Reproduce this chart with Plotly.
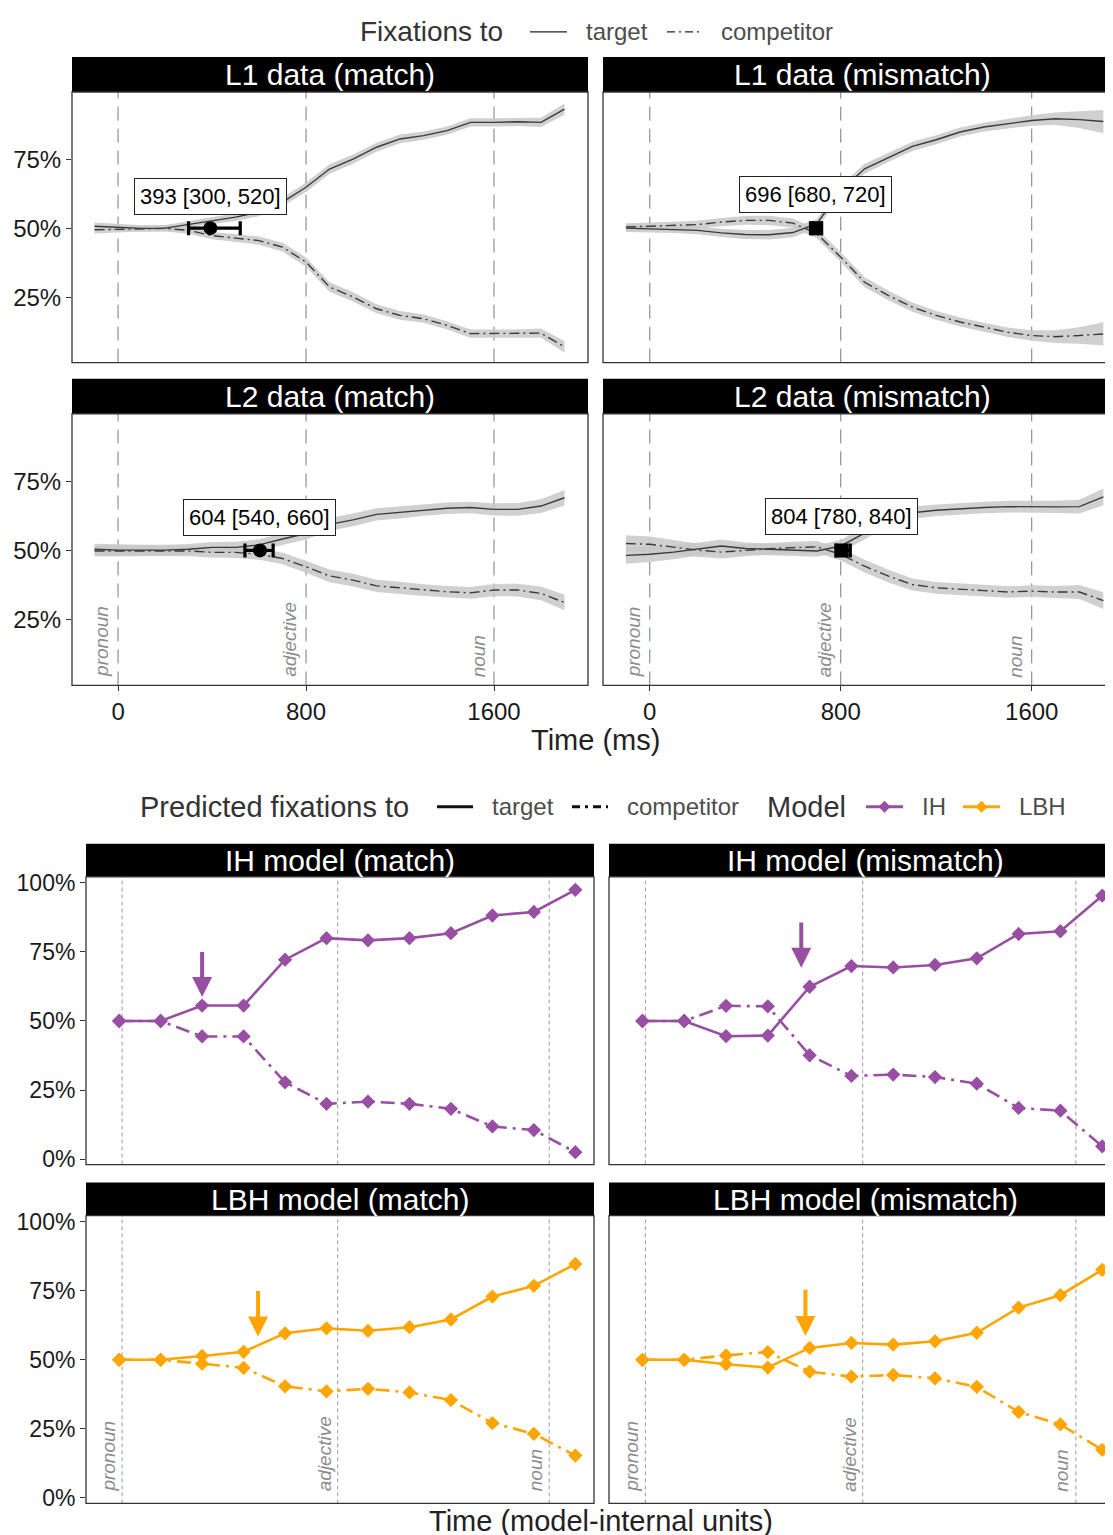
import plotly.graph_objects as go

W, H = 1113, 1535
FONT = "Liberation Sans"
OFF_X = 8          # page body margin compensation (horizontal)
Y_OFF, Y_SCALE = 15.2, 0.9885   # measured page placement (vertical)

# ---------------- data: eye-tracking (top) ----------------
time_ms = [-100, 0, 100, 200, 300, 400, 500, 600, 700, 800, 900, 1000,
           1100, 1200, 1300, 1400, 1500, 1600, 1700, 1800, 1900]

l1_match_target = [50.7, 50.2, 49.9, 50.0, 51.3, 52.8, 54.0, 55.8, 59.4, 64.8, 71.4,
                   75.0, 79.3, 82.3, 83.5, 85.3, 88.3, 88.3, 88.5, 88.3, 93.1]
l1_match_comp = [49.4, 49.6, 49.9, 49.9, 49.2, 47.3, 46.4, 45.5, 43.1, 37.7, 28.7,
                 25.1, 20.8, 18.4, 17.2, 14.8, 11.8, 11.8, 11.8, 12.0, 7.0]
l1_match_ci = [1.3, 1.2, 1.1, 1.1, 1.2, 1.3, 1.4, 1.5, 1.6, 1.7, 1.7,
               1.7, 1.6, 1.6, 1.5, 1.5, 1.5, 1.5, 1.5, 1.7, 2.0]

l1_mis_target = [50.0, 49.8, 49.5, 49.2, 48.3, 47.7, 47.6, 48.4, 51.6, 63.6, 71.5,
                 75.7, 79.6, 82.0, 84.8, 86.6, 87.8, 89.0, 89.6, 89.3, 88.6]
l1_mis_comp = [50.4, 50.7, 51.0, 51.3, 52.2, 52.8, 52.8, 51.8, 48.0, 39.5, 30.4,
               25.6, 21.4, 18.4, 16.0, 14.1, 12.3, 11.1, 10.7, 11.1, 11.7]
l1_mis_ci = [1.4, 1.3, 1.3, 1.4, 1.5, 1.6, 1.7, 1.7, 1.7, 1.8, 1.8,
             1.7, 1.7, 1.6, 1.6, 1.6, 1.7, 1.9, 2.3, 3.0, 4.2]

l2_match_target = [50.4, 50.1, 50.1, 50.1, 50.4, 51.1, 51.1, 52.0, 54.1, 56.1, 59.4,
                   61.0, 63.0, 63.7, 64.6, 65.2, 65.5, 64.8, 64.8, 66.0, 69.0]
l2_match_comp = [49.8, 49.8, 49.9, 49.9, 49.8, 49.3, 49.3, 48.6, 47.1, 44.1, 40.8,
                 39.3, 37.2, 36.5, 35.7, 35.1, 34.7, 35.7, 35.7, 34.5, 31.2]
l2_match_ci = [2.0, 2.0, 1.9, 1.9, 1.9, 1.9, 2.0, 2.0, 2.1, 2.2, 2.3,
               2.3, 2.2, 2.2, 2.1, 2.1, 2.1, 2.2, 2.3, 2.5, 2.8]

l2_mis_target = [48.2, 48.6, 49.4, 50.4, 51.6, 50.7, 50.4, 50.1, 49.8, 51.6, 56.2,
                 61.8, 63.6, 64.5, 65.1, 65.5, 65.8, 65.7, 65.7, 65.8, 69.3]
l2_mis_comp = [52.5, 52.2, 51.2, 50.1, 49.4, 50.1, 50.6, 51.0, 51.3, 48.6, 44.3,
               40.7, 37.7, 36.5, 35.9, 35.5, 35.0, 35.3, 35.0, 35.0, 31.9]
l2_mis_ci = [3.0, 2.8, 2.6, 2.4, 2.3, 2.2, 2.1, 2.1, 2.1, 2.2, 2.3,
             2.3, 2.2, 2.1, 2.1, 2.1, 2.1, 2.1, 2.2, 2.5, 3.0]

data_titles = ["L1 data (match)", "L1 data (mismatch)", "L2 data (match)", "L2 data (mismatch)"]
div_est = [393, 696, 604, 804]
div_lo = [300, 680, 540, 780]
div_hi = [520, 720, 660, 840]
div_symbol = ["circle", "square", "circle", "square"]
div_label_y = [61.5, 62.2, 62.0, 62.4]

event_names = ["pronoun", "adjective", "noun"]
event_ms = [0, 800, 1600]
x_ticks_ms = [0, 800, 1600]

# ---------------- data: model predictions (bottom) ----------------
model_step = [0, 1, 2, 3, 4, 5, 6, 7, 8, 9, 10, 11]
ih_match_target = [50, 50, 55.6, 55.6, 72.2, 80.0, 79.2, 80.0, 81.8, 88.2, 89.5, 97.5]
ih_match_comp = [50, 50, 44.4, 44.4, 27.8, 20.0, 20.8, 20.0, 18.2, 11.8, 10.5, 2.5]
ih_mis_target = [50, 50, 44.5, 44.7, 62.4, 69.9, 69.4, 70.3, 72.7, 81.5, 82.5, 95.4]
ih_mis_comp = [50, 50, 55.5, 55.3, 37.6, 30.1, 30.6, 29.7, 27.3, 18.5, 17.5, 4.6]
lbh_match_target = [50, 50, 51.4, 52.9, 59.6, 61.4, 60.5, 61.8, 64.6, 72.9, 76.8, 84.7]
lbh_match_comp = [50, 50, 48.6, 47.1, 40.4, 38.6, 39.5, 38.2, 35.4, 27.1, 23.2, 15.3]
lbh_mis_target = [50, 50, 48.4, 47.2, 54.3, 56.1, 55.5, 56.7, 59.8, 68.9, 73.4, 82.6]
lbh_mis_comp = [50, 50, 51.6, 52.8, 45.7, 43.9, 44.5, 43.3, 40.2, 31.1, 26.6, 17.4]

model_titles = ["IH model (match)", "IH model (mismatch)", "LBH model (match)", "LBH model (mismatch)"]
model_names = ["IH", "LBH"]
model_colors = {"IH": "#984EA3", "LBH": "#FFA500"}
arrow_step = [2.0, 3.8, 3.35, 3.9]
arrow_tail = [75.5, 86.2, 75.5, 75.9]
arrow_tip = [58.7, 69.3, 58.4, 58.6]
event_step = [0.07, 5.27, 10.37]

# ---------------- layout geometry (pixels of the target picture) ----------------
def PX(x):
    return (x - OFF_X) / W

def PY(y):
    return 1 - ((y - Y_OFF) / Y_SCALE) / H

panels = [
    # x0, x1, strip_top, plot_top, plot_bottom
    (72, 588, 57, 92, 362),
    (603, 1121, 57, 92, 362),
    (72, 588, 378, 413, 684),
    (603, 1121, 378, 413, 684),
    (86, 594, 842, 875, 1162),
    (609, 1121, 842, 875, 1162),
    (86, 594, 1180, 1213, 1500),
    (609, 1121, 1180, 1213, 1500),
]

fig = go.Figure()
shapes = []
annotations = []
layout = {}

def ax_names(i):
    s = "" if i == 1 else str(i)
    return "x" + s, "y" + s, "xaxis" + s, "yaxis" + s

# ---------------- top: data panels ----------------
top_series = [
    (l1_match_target, l1_match_comp, l1_match_ci),
    (l1_mis_target, l1_mis_comp, l1_mis_ci),
    (l2_match_target, l2_match_comp, l2_match_ci),
    (l2_mis_target, l2_mis_comp, l2_mis_ci),
]
LINE_C = "#3a3a3a"
for k in range(4):
    i = k + 1
    xr, yr, xa, ya = ax_names(i)
    x0, x1, st, pt, pb = panels[k]
    left = k % 2 == 0
    bottom_row = k >= 2
    layout[xa] = dict(domain=[PX(x0), min(1.0, PX(x1))], anchor=yr,
                      range=[-196, 2000] if left else [-196, 1974],
                      showgrid=False, zeroline=False, showline=False,
                      tickvals=x_ticks_ms, ticktext=[str(v) for v in x_ticks_ms],
                      showticklabels=bottom_row, ticks="outside" if bottom_row else "",
                      ticklen=5, tickcolor="#333", tickwidth=1.2,
                      tickfont=dict(family=FONT, size=24, color="#1a1a1a"))
    layout[ya] = dict(domain=[PY(pb), PY(pt)], anchor=xr, range=[0.013, 0.993],
                      showgrid=False, zeroline=False, showline=False,
                      tickvals=[0.25, 0.5, 0.75], ticktext=["25%", "50%", "75%"],
                      showticklabels=left, ticks="outside" if left else "",
                      ticklen=5, tickcolor="#333", tickwidth=1.2,
                      tickfont=dict(family=FONT, size=24, color="#1a1a1a"))
    tgt, cmp_, ci = top_series[k]
    for ser in (tgt, cmp_):
        up = [(v + c) / 100 for v, c in zip(ser, ci)]
        lo = [(v - c) / 100 for v, c in zip(ser, ci)]
        fig.add_trace(go.Scatter(x=time_ms + time_ms[::-1], y=up + lo[::-1],
                                 fill="toself", fillcolor="rgba(200,200,200,0.85)",
                                 line=dict(width=0), mode="lines", hoverinfo="skip",
                                 showlegend=False, xaxis=xr, yaxis=yr))
    for e in event_ms:
        shapes.append(dict(type="line", xref=xr, yref=yr + " domain", x0=e, x1=e, y0=0, y1=1,
                           line=dict(color="#7a7a7a", width=1, dash="14px,8px"), layer="below"))
    fig.add_trace(go.Scatter(x=time_ms, y=[v / 100 for v in tgt], mode="lines",
                             line=dict(color=LINE_C, width=1.4), showlegend=False,
                             xaxis=xr, yaxis=yr))
    fig.add_trace(go.Scatter(x=time_ms, y=[v / 100 for v in cmp_], mode="lines",
                             line=dict(color=LINE_C, width=1.4, dash="10px,4px,2px,4px"),
                             showlegend=False, xaxis=xr, yaxis=yr))
    fig.add_trace(go.Scatter(x=[div_est[k]], y=[0.5], mode="markers",
                             marker=dict(symbol=div_symbol[k], size=14, color="black"),
                             error_x=dict(type="data", symmetric=False,
                                          array=[div_hi[k] - div_est[k]],
                                          arrayminus=[div_est[k] - div_lo[k]],
                                          thickness=3.2, width=7, color="black"),
                             showlegend=False, xaxis=xr, yaxis=yr))
    annotations.append(dict(x=div_est[k], y=div_label_y[k] / 100, xref=xr, yref=yr,
                            text=f"{div_est[k]} [{div_lo[k]}, {div_hi[k]}]", showarrow=False,
                            xanchor="center", yanchor="middle",
                            font=dict(family=FONT, size=22, color="black"),
                            bgcolor="white", bordercolor="#222", borderwidth=1, borderpad=5))
    if bottom_row:
        for name, e in zip(event_names, event_ms):
            annotations.append(dict(x=e - 68, y=0.035, xref=xr, yref=yr, text=name,
                                    textangle=-90, showarrow=False, xanchor="center", yanchor="bottom",
                                    font=dict(family=FONT, size=19, color="#8c8c8c", style="italic")))

# ---------------- bottom: model panels ----------------
model_series = [
    ("IH", ih_match_target, ih_match_comp),
    ("IH", ih_mis_target, ih_mis_comp),
    ("LBH", lbh_match_target, lbh_match_comp),
    ("LBH", lbh_mis_target, lbh_mis_comp),
]
for k in range(4):
    i = k + 5
    xr, yr, xa, ya = ax_names(i)
    x0, x1, st, pt, pb = panels[k + 4]
    left = k % 2 == 0
    layout[xa] = dict(domain=[PX(x0), min(1.0, PX(x1))], anchor=yr, range=[-0.8, 11.45],
                      showgrid=False, zeroline=False, showline=False,
                      showticklabels=False, ticks="")
    layout[ya] = dict(domain=[PY(pb), PY(pt)], anchor=xr, range=[-0.02, 1.022],
                      showgrid=False, zeroline=False, showline=False,
                      tickvals=[0, 0.25, 0.5, 0.75, 1.0],
                      ticktext=["0%", "25%", "50%", "75%", "100%"],
                      showticklabels=left, ticks="outside" if left else "",
                      ticklen=5, tickcolor="#333", tickwidth=1.2,
                      tickfont=dict(family=FONT, size=23, color="#1a1a1a"))
    for e in event_step:
        shapes.append(dict(type="line", xref=xr, yref=yr + " domain", x0=e, x1=e, y0=0, y1=1,
                           line=dict(color="#9a9a9a", width=1, dash="4px,3px"), layer="below"))
    m, tgt, cmp_ = model_series[k]
    col = model_colors[m]
    fig.add_trace(go.Scatter(x=model_step, y=[v / 100 for v in cmp_], mode="lines+markers",
                             line=dict(color=col, width=2.6, dash="14px,6px,3px,6px"),
                             marker=dict(symbol="diamond", size=11, color=col),
                             showlegend=False, xaxis=xr, yaxis=yr))
    fig.add_trace(go.Scatter(x=model_step, y=[v / 100 for v in tgt], mode="lines+markers",
                             line=dict(color=col, width=2.6),
                             marker=dict(symbol="diamond", size=11, color=col),
                             showlegend=False, xaxis=xr, yaxis=yr))
    annotations.append(dict(x=arrow_step[k], y=arrow_tip[k] / 100, ax=arrow_step[k],
                            ay=arrow_tail[k] / 100, xref=xr, yref=yr, axref=xr, ayref=yr,
                            text="", showarrow=True, arrowhead=2, arrowsize=1.0,
                            arrowwidth=4, arrowcolor=col))
    if k >= 2:
        for name, e in zip(event_names, event_step):
            annotations.append(dict(x=e - 0.33, y=0.015, xref=xr, yref=yr, text=name,
                                    textangle=-90, showarrow=False, xanchor="center", yanchor="bottom",
                                    font=dict(family=FONT, size=19, color="#8c8c8c", style="italic")))

# ---------------- strips and panel borders ----------------
all_titles = data_titles + model_titles
for (x0, x1, st, pt, pb), title in zip(panels, all_titles):
    shapes.append(dict(type="rect", xref="paper", yref="paper", x0=PX(x0), x1=PX(x1),
                       y0=PY(pt), y1=PY(st), fillcolor="black", line=dict(width=0)))
    shapes.append(dict(type="rect", xref="paper", yref="paper", x0=PX(x0), x1=PX(x1),
                       y0=PY(pb), y1=PY(pt), fillcolor="rgba(0,0,0,0)",
                       line=dict(color="#333", width=1.3)))
    annotations.append(dict(x=PX((x0 + x1) / 2), y=PY((st + pt) / 2), xref="paper", yref="paper",
                            text=title, showarrow=False, xanchor="center", yanchor="middle",
                            font=dict(family=FONT, size=30, color="white")))

# ---------------- axis titles ----------------
annotations.append(dict(x=PX(595), y=PY(738), xref="paper", yref="paper", text="Time (ms)",
                        showarrow=False, xanchor="center", yanchor="middle",
                        font=dict(family=FONT, size=29, color="#222")))
annotations.append(dict(x=PX(601), y=PY(1518), xref="paper", yref="paper",
                        text="Time (model-internal units)", showarrow=False,
                        xanchor="center", yanchor="middle",
                        font=dict(family=FONT, size=29, color="#222")))

# ---------------- legends ----------------
def text_at(x, y, s, size, color):
    annotations.append(dict(x=PX(x), y=PY(y), xref="paper", yref="paper", text=s,
                            showarrow=False, xanchor="left", yanchor="middle",
                            font=dict(family=FONT, size=size, color=color)))

def line_at(xa_, xb_, y, color, width, dash="solid"):
    shapes.append(dict(type="line", xref="paper", yref="paper", x0=PX(xa_), x1=PX(xb_),
                       y0=PY(y), y1=PY(y), line=dict(color=color, width=width, dash=dash)))

def diamond_at(x, y, r, color):
    path = (f"M {PX(x)},{PY(y - r)} L {PX(x + r)},{PY(y)} L {PX(x)},{PY(y + r)} "
            f"L {PX(x - r)},{PY(y)} Z")
    shapes.append(dict(type="path", xref="paper", yref="paper", path=path,
                       fillcolor=color, line=dict(color=color, width=0)))

TOP_LEG_Y = 32   # kept fully inside the page
text_at(358, TOP_LEG_Y, "Fixations to", 28, "#333")
line_at(530, 567, TOP_LEG_Y, "#222", 1.4)
text_at(584, TOP_LEG_Y, "target", 24, "#4d4d4d")
line_at(667, 703, TOP_LEG_Y, "#222", 1.4, "8px,4px,2px,4px")
text_at(719, TOP_LEG_Y, "competitor", 24, "#4d4d4d")

text_at(138, 805, "Predicted fixations to", 29, "#333")
line_at(437, 473, 805, "#111", 3)
text_at(490, 805, "target", 24, "#4d4d4d")
line_at(572, 608, 805, "#111", 3, "8px,5px,3px,5px")
text_at(625, 805, "competitor", 24, "#4d4d4d")
text_at(765, 805, "Model", 29, "#333")
line_at(866, 903, 805, model_colors["IH"], 3)
diamond_at(884.5, 805, 6, model_colors["IH"])
text_at(920, 805, "IH", 24, "#4d4d4d")
line_at(963, 1000, 805, model_colors["LBH"], 3)
diamond_at(981.5, 805, 6, model_colors["LBH"])
text_at(1017, 805, "LBH", 24, "#4d4d4d")

fig.update_layout(width=W, height=H, margin=dict(l=0, r=0, t=0, b=0),
                  paper_bgcolor="white", plot_bgcolor="white",
                  shapes=shapes, annotations=annotations, showlegend=False,
                  font=dict(family=FONT), **layout)
fig.write_html("out.html")
